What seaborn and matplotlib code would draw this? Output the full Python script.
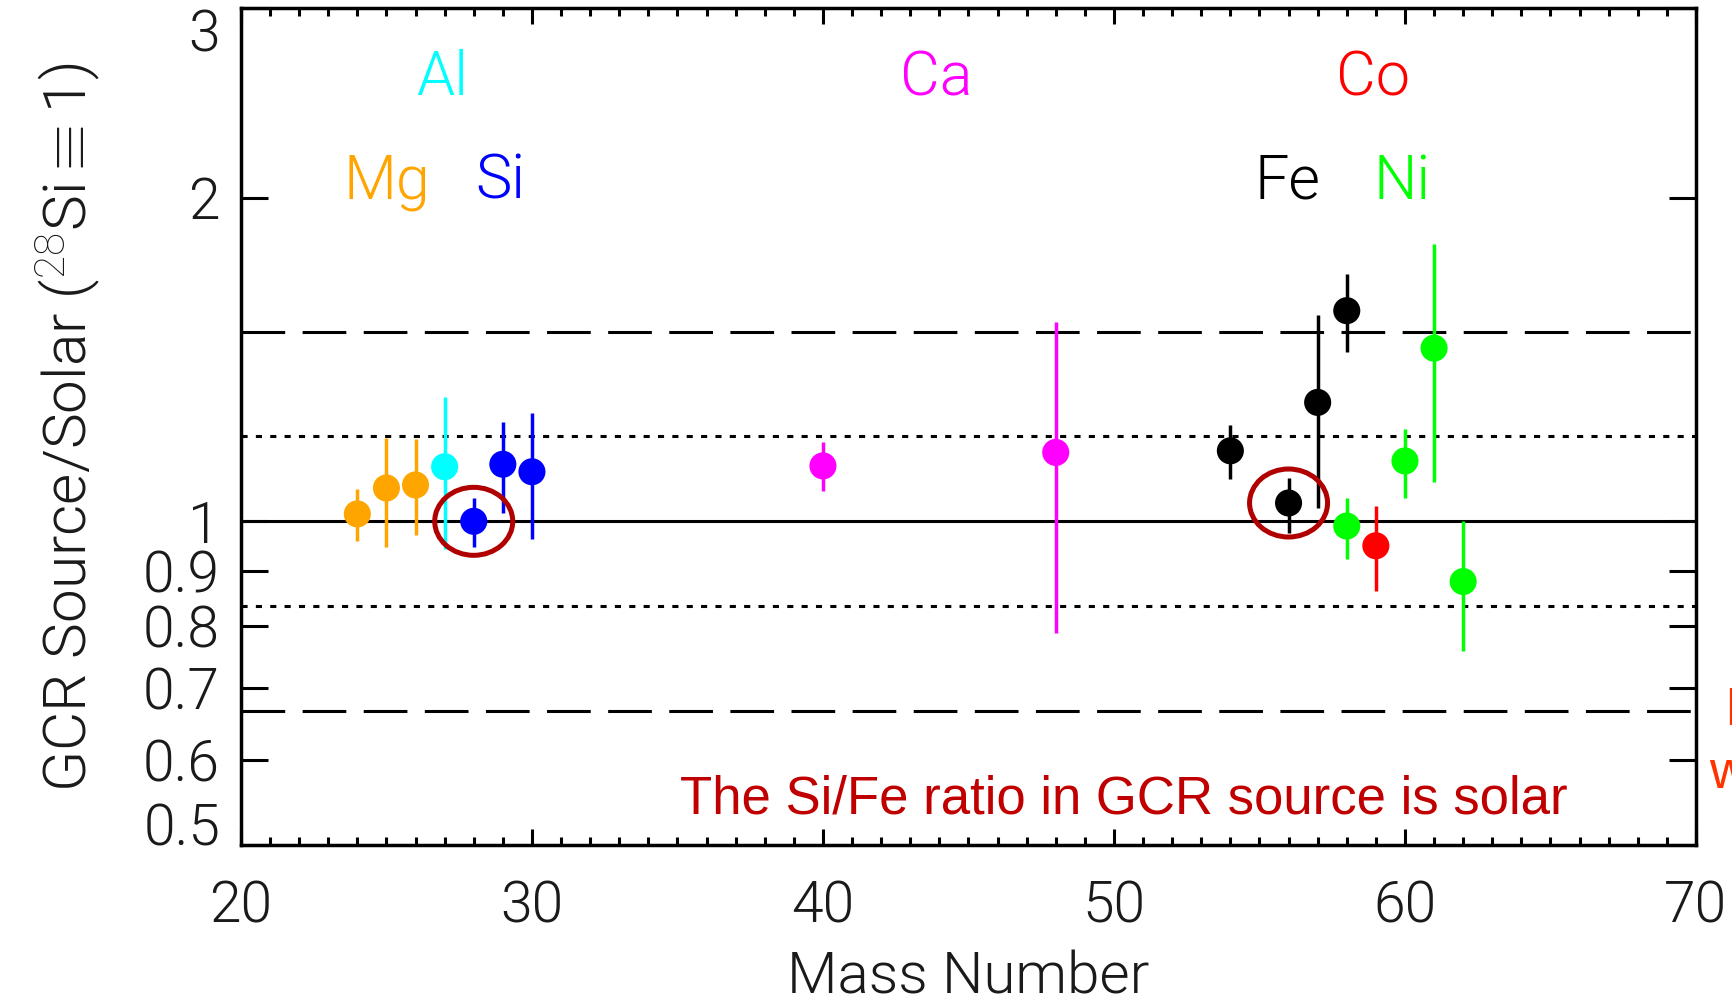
import matplotlib
matplotlib.use("Agg")
import matplotlib.pyplot as plt
import matplotlib.ticker as mticker
from matplotlib import font_manager
from matplotlib.patches import Ellipse
from matplotlib.transforms import ScaledTranslation
import pandas as pd
import seaborn as sns

# Isotope source abundances relative to solar, normalised to 28Si
mass_number = [24, 25, 26, 27, 28, 29, 30, 40, 48, 54, 56, 57, 58, 58, 59, 60, 61, 62]
element = ["Mg", "Mg", "Mg", "Al", "Si", "Si", "Si", "Ca", "Ca",
           "Fe", "Fe", "Fe", "Fe", "Ni", "Co", "Ni", "Ni", "Ni"]
ratio = [1.016, 1.074, 1.081, 1.124, 1.000, 1.130, 1.112, 1.126, 1.159,
         1.163, 1.040, 1.290, 1.570, 0.990, 0.949, 1.138, 1.449, 0.879]
ratio_high = [1.071, 1.196, 1.192, 1.306, 1.052, 1.238, 1.261, 1.184, 1.534,
              1.229, 1.098, 1.555, 1.700, 1.052, 1.034, 1.218, 1.811, 1.000]
ratio_low = [0.959, 0.947, 0.971, 0.942, 0.947, 1.018, 0.963, 1.067, 0.788,
             1.094, 0.976, 1.028, 1.436, 0.922, 0.862, 1.052, 1.087, 0.758]

element_colors = {"Mg": "#FFA500", "Al": "#00FFFF", "Si": "#0000FF", "Ca": "#FF00FF",
                  "Fe": "#000000", "Co": "#FF0000", "Ni": "#00FF00"}

# Element name labels (mass-number position, height on the ratio axis)
label_names = ["Al", "Ca", "Co", "Mg", "Si", "Fe", "Ni"]
label_x = [26.9, 43.9, 58.9, 25.0, 28.9, 55.95, 59.9]
label_y = [2.49, 2.49, 2.49, 1.995, 1.995, 1.995, 1.995]

# Highlighted isotopes
circled_mass = [28, 56]
circled_element = ["Si", "Fe"]

# Reference levels: solar, +/-20 %, +/-50 %
solid_levels = [1.0]
dotted_levels = [1.2, 1 / 1.2]
dashed_levels = [1.5, 1 / 1.5]

x_ticks = [20, 30, 40, 50, 60, 70]
y_ticks = [0.5, 0.6, 0.7, 0.8, 0.9, 1, 2, 3]
y_tick_labels = ["0.5", "0.6", "0.7", "0.8", "0.9", "1", "2", "3"]

df = pd.DataFrame({"mass": mass_number, "element": element, "ratio": ratio,
                   "high": ratio_high, "low": ratio_low})

sns.set_theme(style="white")


def _weight(w):
    if isinstance(w, str):
        return font_manager.weight_dict.get(w, 400)
    return int(w)


def pick_thin_font():
    entries = font_manager.fontManager.ttflist
    names = {f.name for f in entries}
    if "Liberation Sans Narrow" in names:
        return "Liberation Sans Narrow", "normal", "normal"
    for fam in ["Roboto", "Lato", "Open Sans"]:
        for f in entries:
            if f.name == fam and f.style == "normal" and _weight(f.weight) == 300:
                return fam, 300, "normal"
    for f in entries:
        if f.name == "DejaVu Sans" and f.stretch == "condensed":
            return "DejaVu Sans", "normal", "condensed"
    return "DejaVu Sans", "normal", "normal"


thin_family, thin_weight, thin_stretch = pick_thin_font()
plt.rcParams["font.family"] = [thin_family, "DejaVu Sans"]
plt.rcParams["font.weight"] = thin_weight
plt.rcParams["font.stretch"] = thin_stretch
plt.rcParams["axes.labelweight"] = thin_weight
plt.rcParams["mathtext.fontset"] = "custom"
wname = "light" if thin_weight == 300 else "normal"
plt.rcParams["mathtext.rm"] = f"{thin_family}:{wname}"
plt.rcParams["mathtext.it"] = f"{thin_family}:{wname}"

fig = plt.figure(figsize=(17.32, 10), dpi=100, facecolor="white")
ax = fig.add_axes([0.1391, 0.155, 0.8401, 0.8367])
ax.set_facecolor("white")

ax.set_yscale("log")
ax.set_xlim(20, 70)
ax.set_ylim(0.5, 3)

line_w = 2.2
for lv in solid_levels:
    ax.axhline(lv, color="black", lw=line_w, zorder=1)
for lv in dotted_levels:
    ax.axhline(lv, color="black", lw=line_w, dashes=(2.0, 2.7), zorder=1)
for lv in dashed_levels:
    ax.axhline(lv, color="black", lw=line_w, dashes=(14.3, 5.7), zorder=1)

ax.vlines(df["mass"], df["low"], df["high"],
          colors=df["element"].map(element_colors), lw=2.5, zorder=2)
sns.scatterplot(data=df, x="mass", y="ratio", hue="element", palette=element_colors,
                s=380, linewidth=0, legend=False, ax=ax, zorder=3)

for name, xv, yv in zip(label_names, label_x, label_y):
    ax.text(xv, yv, name, color=element_colors[name], fontsize=44,
            ha="center", va="baseline", zorder=4)

for m, el in zip(circled_mass, circled_element):
    yv = df.loc[(df["mass"] == m) & (df["element"] == el), "ratio"].iloc[0]
    ell = Ellipse((0, 0), width=0.78, height=0.68, fill=False,
                  edgecolor="#B00000", lw=3.6, zorder=5, clip_on=False,
                  transform=fig.dpi_scale_trans + ScaledTranslation(m, yv, ax.transData))
    ax.add_patch(ell)

arial = dict(family=["Liberation Sans", "DejaVu Sans"], weight="normal", stretch="normal")
ax.text(0.607, 0.038, "The Si/Fe ratio in GCR source is solar", transform=ax.transAxes,
        color="#C00000", fontsize=38, ha="center", va="baseline", zorder=6, **arial)

# Notes running past the right edge of the figure
fig.text(1724 / 1732, 0.275, "I", color="#FF3300", fontsize=38,
         ha="left", va="baseline", **arial)
fig.text(1709 / 1732, 0.212, "w", color="#FF3300", fontsize=38,
         ha="left", va="baseline", **arial)

ax.set_xticks(x_ticks)
ax.xaxis.set_minor_locator(mticker.MultipleLocator(1))
ax.set_yticks(y_ticks)
ax.set_yticklabels(y_tick_labels)
ax.yaxis.set_minor_locator(mticker.NullLocator())

ax.tick_params(axis="both", which="both", direction="in",
               top=True, bottom=True, left=True, right=True,
               width=2.2, color="black", labelcolor="#1a1a1a", labelsize=41)
ax.tick_params(axis="x", which="major", length=11.5, pad=25)
ax.tick_params(axis="x", which="minor", length=5.8)
ax.tick_params(axis="y", which="major", length=19.4, pad=15)

# Keep the end labels inside the frame height
ylabels = ax.get_yticklabels()
ylabels[0].set_verticalalignment("baseline")
ylabels[-1].set_verticalalignment("top")

for sp in ax.spines.values():
    sp.set_linewidth(2.5)
    sp.set_color("black")
    sp.set_visible(True)

ax.set_xlabel("Mass Number", fontsize=42, color="#1a1a1a", fontweight=thin_weight)
ax.set_ylabel(r"GCR Source/Solar ($^{28}$Si$\equiv$1)", fontsize=43.5,
              color="#1a1a1a", fontweight=thin_weight)
ax.xaxis.set_label_coords(0.5, -0.126)
ax.yaxis.set_label_coords(-0.095, 0.5)

fig.savefig("out.png", dpi=100, facecolor="white")
